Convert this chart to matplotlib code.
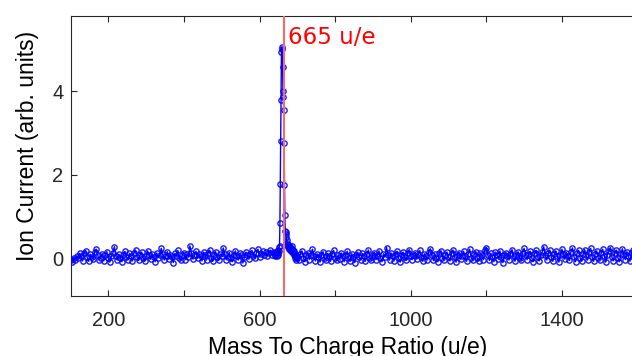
import numpy as np
import matplotlib
matplotlib.use("Agg")
import matplotlib.pyplot as plt

# Mass axis: coarse sampling on the baseline, fine sampling around the peak
mass_low = np.arange(100, 640, 4)
mass_peak = np.arange(640, 700, 1)
mass_high = np.arange(700, 1601, 4)

current_low = [
    -0.05, -0.08, 0.02, -0.04, 0.06, 0.00, 0.12, 0.05, -0.06, 0.14, 0.18, 0.03, -0.07, 0.10, 0.04, -0.02, 0.15, 0.22, 0.08, -0.05,
    0.02, 0.11, -0.06, 0.07, 0.16, 0.01, -0.09, 0.05, 0.13, 0.28, 0.06, -0.04, 0.10, 0.02, -0.08, 0.09, 0.17, 0.04, -0.03, 0.12,
    0.05, -0.06, 0.14, 0.20, 0.03, -0.05, 0.08, 0.15, 0.01, -0.07, 0.06, 0.18, 0.09, -0.02, 0.11, 0.04, -0.08, 0.13, 0.02, 0.07,
    0.24, 0.10, -0.04, 0.05, 0.16, -0.02, 0.09, 0.03, -0.10, 0.12, 0.06, 0.19, 0.01, -0.05, 0.08, 0.14, -0.03, 0.10, 0.04, 0.30,
    0.12, -0.02, 0.07, 0.17, 0.00, 0.11, 0.05, -0.06, 0.15, 0.08, -0.04, 0.13, 0.20, 0.02, -0.07, 0.09, 0.16, 0.03, -0.05, 0.10,
    0.06, 0.25, 0.11, -0.03, 0.04, 0.14, 0.01, -0.08, 0.09, 0.18, 0.05, -0.04, 0.12, 0.07, -0.11, 0.03, 0.15, 0.08, -0.02, 0.10,
    0.19, 0.06, 0.00, 0.13, 0.22, 0.04, 0.11, 0.17, 0.08, 0.15, 0.05, 0.12, 0.20, 0.09, 0.16,
]

current_peak = [
    0.08, 0.12, 0.05, 0.15, 0.10, 0.18, 0.06, 0.14, 0.09, 0.20,
    0.12, 0.18, 0.28, 0.30, 0.85, 1.78, 2.80, 3.80, 4.95, 5.05,
    5.00, 4.58, 4.00, 3.85, 3.55, 2.75, 1.75, 1.05, 0.65, 0.62,
    0.58, 0.50, 0.45, 0.38, 0.32, 0.30, 0.28, 0.32, 0.25, 0.22,
    0.28, 0.20, 0.24, 0.18, 0.26, 0.30, 0.22, 0.15, 0.20, 0.12,
    0.18, 0.08, 0.14, 0.05, 0.10, 0.02, 0.08, -0.04, 0.05, 0.00,
]

current_high = [
    0.04, -0.05, 0.10, 0.18, 0.02, -0.08, 0.07, 0.14, -0.03, 0.09, 0.22, 0.05, -0.06, 0.11, 0.03, -0.09, 0.08, 0.16, 0.01, -0.04,
    0.12, 0.06, -0.07, 0.10, 0.19, 0.02, -0.05, 0.08, -0.02, 0.13, 0.05, -0.08, 0.09, 0.17, 0.00, -0.06, 0.11, 0.04, -0.10, 0.07,
    0.15, 0.03, -0.04, 0.12, 0.06, -0.07, 0.10, 0.20, 0.01, -0.05, 0.08, 0.14, -0.03, 0.06, 0.18, 0.02, -0.08, 0.11, 0.04, 0.26,
    0.09, -0.04, 0.13, 0.05, -0.06, 0.10, 0.17, 0.00, -0.09, 0.07, 0.15, 0.03, -0.05, 0.12, 0.21, 0.06, -0.03, 0.09, 0.14, -0.02,
    0.08, 0.19, 0.04, -0.07, 0.11, 0.05, -0.04, 0.16, 0.23, 0.07, -0.05, 0.10, 0.02, -0.08, 0.13, 0.18, 0.01, -0.03, 0.09, 0.15,
    0.04, -0.06, 0.12, 0.20, 0.03, -0.09, 0.08, 0.14, -0.02, 0.06, 0.17, 0.05, -0.07, 0.11, 0.22, 0.02, -0.04, 0.10, 0.16, 0.00,
    -0.06, 0.13, 0.07, -0.03, 0.19, 0.26, 0.08, -0.05, 0.12, 0.04, -0.08, 0.15, 0.09, -0.02, 0.18, 0.03, -0.10, 0.07, 0.14, 0.05,
    -0.04, 0.11, 0.21, 0.06, -0.07, 0.09, 0.16, 0.01, -0.05, 0.13, 0.24, 0.08, -0.03, 0.10, 0.17, 0.02, -0.08, 0.12, 0.19, 0.04,
    -0.06, 0.09, 0.15, 0.28, 0.07, -0.04, 0.12, 0.20, 0.03, -0.07, 0.10, 0.18, 0.05, -0.09, 0.08, 0.22, 0.11, -0.02, 0.14, 0.06,
    -0.05, 0.16, 0.25, 0.04, -0.08, 0.12, 0.19, 0.02, -0.06, 0.10, 0.21, 0.07, -0.04, 0.15, 0.24, 0.03, -0.07, 0.11, 0.18, 0.01,
    -0.05, 0.13, 0.22, 0.06, -0.09, 0.09, 0.17, 0.26, 0.04, -0.06, 0.14, 0.20, 0.02, -0.08, 0.11, 0.23, 0.07, -0.03, 0.16, 0.05,
    -0.07, 0.12, 0.19, 0.03, -0.04, 0.10,
]

peak_mass = 665
peak_label = "665 u/e"
x_ticks = [200, 400, 600, 800, 1000, 1200, 1400, 1600]
x_tick_labels = ["200", "", "600", "", "1000", "", "1400", ""]
y_ticks = [0, 2, 4]

mass = np.concatenate([mass_low, mass_peak, mass_high])
current = np.concatenate([current_low, current_peak, current_high])

W, H = 632, 356
fig = plt.figure(figsize=(W / 100, H / 100), dpi=100)
ax = fig.add_axes([70.5 / W, 60 / H, 567 / W, 280 / H])

axis_color = (0.15, 0.15, 0.15)
ax.plot(mass, current, "-", color=(0, 0, 1), lw=1.0, zorder=2)
ax.plot(mass, current, "o", ms=3.8, mfc="none", mec=(0.0, 0.0, 1.0),
        mew=1.0, alpha=0.9, zorder=3)
ax.axvline(peak_mass, color=(0.95, 0.42, 0.42), lw=1.5, zorder=4)
ax.text(peak_mass + 11, 5.14, peak_label, color="red", fontsize=16.5,
        family="DejaVu Sans", va="baseline", ha="left")

ax.set_xlim(100, 1600)
ax.set_ylim(-0.9, 5.8)
ax.set_xticks(x_ticks)
ax.set_xticklabels(x_tick_labels)
ax.set_yticks(y_ticks)

for s in ax.spines.values():
    s.set_color(axis_color)
    s.set_linewidth(0.8)

ax.tick_params(direction="in", length=4.5, width=0.8, color=axis_color,
               labelcolor=axis_color, labelsize=14.5, top=True, right=True)
ax.tick_params(axis="x", pad=11)
ax.tick_params(axis="y", pad=5)
for lab in ax.get_xticklabels() + ax.get_yticklabels():
    lab.set_family("Liberation Sans")

ax.set_xlabel("Mass To Charge Ratio (u/e)", fontsize=16.5,
              family="Liberation Sans", color="black")
ax.set_ylabel("Ion Current (arb. units)", fontsize=16.5,
              family="Liberation Sans", color="black")
ax.xaxis.set_label_coords(0.489, -0.142)
ax.yaxis.set_label_coords(-0.055, 0.536)

fig.savefig("out.png", dpi=100)
